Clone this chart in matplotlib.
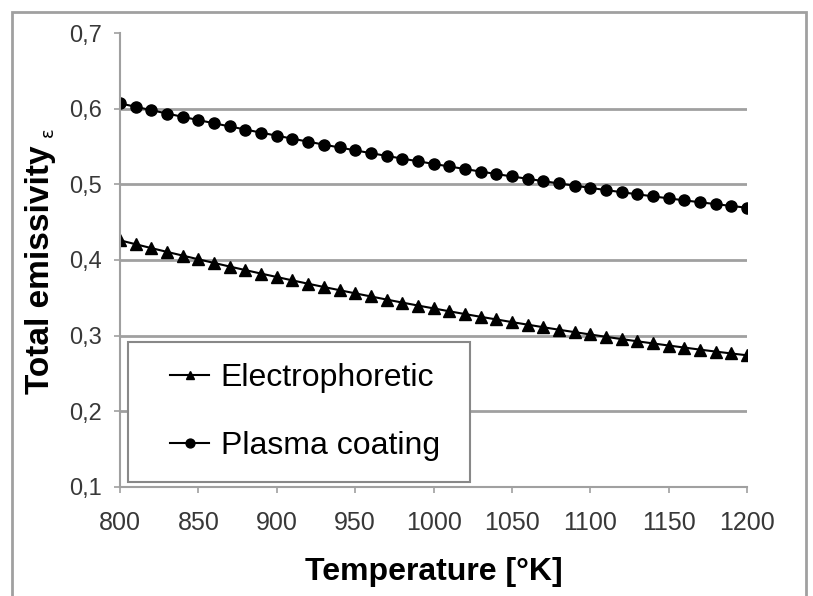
import matplotlib
matplotlib.use("Agg")
from matplotlib import pyplot as plt
from matplotlib.patches import Rectangle

plt.rcParams['font.family'] = ['Liberation Sans', 'DejaVu Sans']

# temperature [K], one point every 10 K
temperature = list(range(800, 1210, 10))

electrophoretic = [0.4260, 0.4208, 0.4157, 0.4107, 0.4058, 0.4009, 0.3961, 0.3913,
                   0.3866, 0.3820, 0.3775, 0.3730, 0.3686, 0.3643, 0.3601, 0.3559,
                   0.3518, 0.3477, 0.3437, 0.3398, 0.3360, 0.3322, 0.3285, 0.3249,
                   0.3214, 0.3179, 0.3145, 0.3111, 0.3078, 0.3046, 0.3015, 0.2984,
                   0.2954, 0.2925, 0.2897, 0.2869, 0.2842, 0.2815, 0.2789, 0.2764,
                   0.2740]

plasma = [0.6070, 0.6025, 0.5980, 0.5936, 0.5892, 0.5849, 0.5807, 0.5765,
          0.5724, 0.5683, 0.5643, 0.5603, 0.5564, 0.5525, 0.5487, 0.5449,
          0.5412, 0.5376, 0.5340, 0.5305, 0.5270, 0.5236, 0.5202, 0.5169,
          0.5136, 0.5104, 0.5073, 0.5042, 0.5012, 0.4982, 0.4953, 0.4924,
          0.4896, 0.4868, 0.4841, 0.4814, 0.4788, 0.4763, 0.4738, 0.4714,
          0.4690]

x_ticks = [800, 850, 900, 950, 1000, 1050, 1100, 1150, 1200]
y_ticks = [0.1, 0.2, 0.3, 0.4, 0.5, 0.6, 0.7]
y_ticklabels = ["0,1", "0,2", "0,3", "0,4", "0,5", "0,6", "0,7"]

grey = "#a0a0a0"

fig = plt.figure(figsize=(8.13, 5.96), dpi=100)
ax = fig.add_axes([0.1476, 0.183, 0.7714, 0.7616])

ax.plot(temperature, electrophoretic, color="black", lw=1.5, marker="^",
        markersize=8, label="Electrophoretic")
ax.plot(temperature, plasma, color="black", lw=1.5, marker="o",
        markersize=8, label="Plasma coating")

ax.set_xlim(800, 1200)
ax.set_ylim(0.1, 0.7)
ax.set_xticks(x_ticks)
ax.set_yticks(y_ticks)
ax.set_yticklabels(y_ticklabels)

#only horizontal grid, none at the top
ax.yaxis.grid(True, color=grey, lw=2)
ax.get_ygridlines()[-1].set_visible(False)
ax.get_ygridlines()[0].set_visible(False)
ax.set_axisbelow(True)

for side in ["top", "right"]:
    ax.spines[side].set_visible(False)
for side in ["left", "bottom"]:
    ax.spines[side].set_color(grey)
    ax.spines[side].set_linewidth(1.5)

ax.tick_params(axis="both", colors=grey, length=4, width=1.2, labelcolor="#383838")
ax.tick_params(axis="x", pad=13, labelsize=18)
ax.tick_params(axis="y", pad=9, labelsize=17)

ax.set_xlabel("Temperature [°K]", fontsize=23, fontweight="bold", labelpad=16)
ax.set_ylabel("Total emissivity", fontsize=24, fontweight="bold")
ax.yaxis.set_label_coords(-0.102, 0.478)
ax.text(-0.115, 0.782, "ε", transform=ax.transAxes, rotation=90,
        fontsize=13, ha="center", va="center", family=["DejaVu Sans"])

# legend box drawn by hand, legend centred in it
ax.add_patch(Rectangle((0.0128, 0.011), 0.545, 0.308, transform=ax.transAxes,
                       fill=True, facecolor="white", edgecolor="#888888", lw=1.5, zorder=5))
leg = ax.legend(loc="center", bbox_to_anchor=(0.295, 0.165), frameon=False,
                fontsize=23, handlelength=1.2, handletextpad=0.37, labelspacing=1.2,
                borderpad=0.5, markerscale=0.8)
leg.set_zorder(6)

fig.patches.append(Rectangle((0.015, -0.01), 0.976, 0.99, transform=fig.transFigure,
                             fill=False, edgecolor=grey, lw=2))

plt.savefig("out.png", dpi=100)
plt.close()
